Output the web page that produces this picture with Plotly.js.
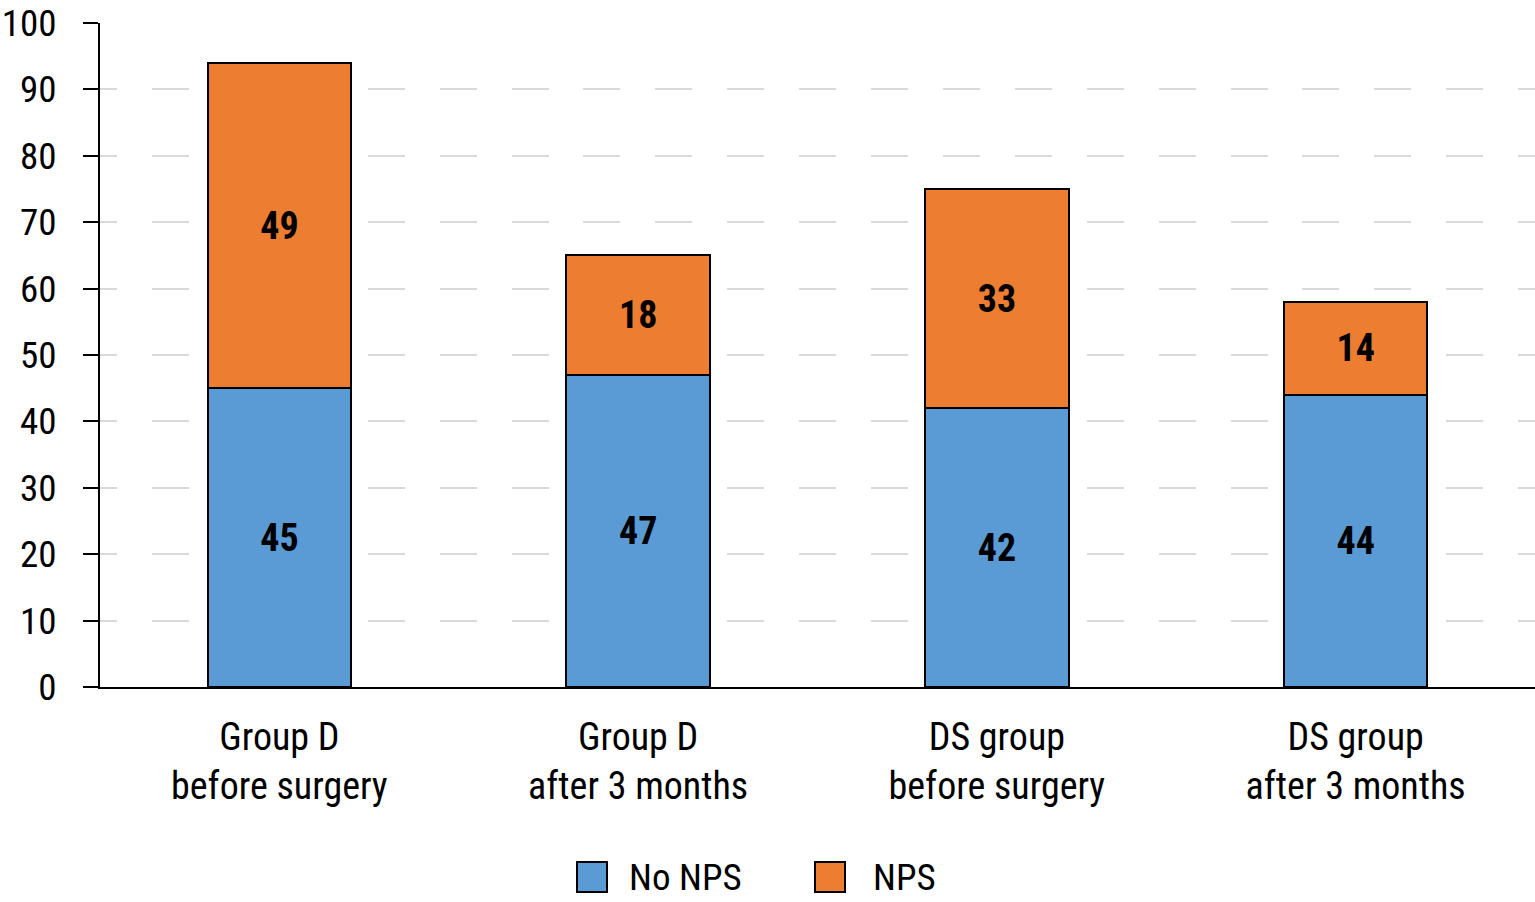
<!DOCTYPE html>
<html>
<head>
<meta charset="utf-8">
<script src="https://cdn.plot.ly/plotly-3.0.1.min.js"></script>
<style>html,body{margin:0;padding:0;background:#fff;}#chart{width:1535px;height:902px;}</style>
</head>
<body>
<div id="chart"></div>
<script>
// ---- data ----
const categories = ["Group D<br>before surgery", "Group D<br>after 3 months", "DS group<br>before surgery", "DS group<br>after 3 months"];
const seriesNames = ["No NPS", "NPS"];
const noNps = [45, 47, 42, 44];
const nps = [49, 18, 33, 14];
const yTicks = [0, 10, 20, 30, 40, 50, 60, 70, 80, 90, 100];

// ---- styling ----
const FONT = '"Roboto Condensed", "DejaVu Sans Condensed", sans-serif';
const colors = ["#5B9BD5", "#ED7D31"];

// dashed grid pattern
let dash = ["17px", "35px"];
for (let i = 0; i < 24; i++) { dash.push("37px", "34.9px"); }
const gridDash = dash.join(",");

const W = 1535, H = 902;
const M = {l: 100, r: 0, t: 23, b: 215};
const pw = W - M.l - M.r, ph = H - M.t - M.b;
const px2x = p => (p - M.l) / pw;
const py2y = p => (H - M.b - p) / ph;

function bar(name, vals, color) {
  return {
    type: "bar", name: name, x: categories, y: vals,
    marker: {color: color, line: {color: "#000", width: 2}},
    width: 0.4,
    text: vals.map(String), textposition: "inside", insidetextanchor: "middle",
    textangle: 0, constraintext: "none",
    textfont: {family: FONT, size: 38, color: "#000", weight: "bold"},
    hoverinfo: "x+y+name", showlegend: false
  };
}

const data = [bar(seriesNames[0], noNps, colors[0]), bar(seriesNames[1], nps, colors[1])];

// custom legend (large swatches)
const legendItems = [
  {sq: 577, tx: 627},
  {sq: 815, tx: 871}
];
const shapes = [], annotations = [];
legendItems.forEach((it, i) => {
  shapes.push({type: "rect", xref: "paper", yref: "paper",
    x0: px2x(it.sq), x1: px2x(it.sq + 30), y0: py2y(892), y1: py2y(862),
    fillcolor: colors[i], line: {color: "#000", width: 2}});
  annotations.push({xref: "paper", yref: "paper", x: px2x(it.tx), y: py2y(877),
    xanchor: "left", yanchor: "middle", showarrow: false, text: seriesNames[i],
    font: {family: FONT, size: 37, color: "#000"}});
});

const layout = {
  width: W, height: H,
  margin: M,
  barmode: "stack",
  paper_bgcolor: "#fff", plot_bgcolor: "#fff",
  font: {family: FONT, size: 38, color: "#000"},
  showlegend: false,
  xaxis: {
    type: "category", range: [-0.5, 3.5],
    showline: true, linecolor: "#000", linewidth: 2,
    ticks: "", showgrid: false, zeroline: false,
    tickfont: {family: FONT, size: 38, color: "#000"},
    ticklabelstandoff: 15, fixedrange: true
  },
  yaxis: {
    range: [0, 100], tickvals: yTicks, ticktext: yTicks.map(String),
    showline: true, linecolor: "#000", linewidth: 2,
    ticks: "outside", ticklen: 15, tickwidth: 2, tickcolor: "#000",
    showgrid: true, gridcolor: "#d9d9d9", gridwidth: 2, griddash: gridDash,
    zeroline: false,
    tickfont: {family: FONT, size: 37, color: "#000"},
    ticklabelstandoff: 19, fixedrange: true
  },
  shapes: shapes,
  annotations: annotations
};

Plotly.newPlot("chart", data, layout, {displayModeBar: false, responsive: false});
</script>
</body>
</html>
